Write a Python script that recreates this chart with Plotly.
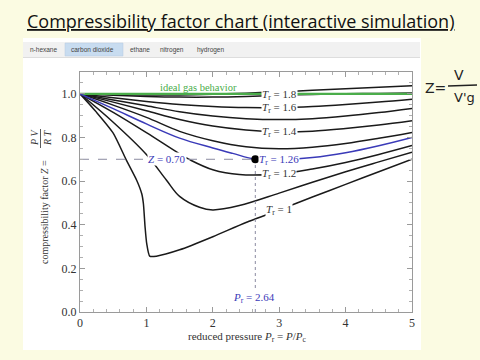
import plotly.graph_objects as go

# ---------------- data ----------------
pr_grid = [0, 0.5, 1.0, 1.5, 2.0, 2.5, 3.0, 3.5, 4.0, 4.5, 5.0]

tr10_pr = [0, 0.25, 0.5, 0.7, 0.855, 0.93, 0.955, 0.98, 1.005, 1.05, 1.15, 1.5, 2.0, 2.5, 3.0, 3.5, 4.0, 4.5, 5.0]
tr10_z = [1.0, 0.915, 0.82, 0.695, 0.603, 0.542, 0.496, 0.39, 0.313, 0.256, 0.256, 0.285, 0.345, 0.41, 0.468, 0.527, 0.585, 0.643, 0.70]

tr11_pr = [0, 0.5, 1.0, 1.3, 1.5, 1.8, 2.0, 2.4, 3.0, 3.5, 4.0, 4.5, 5.0]
tr11_z = [1.0, 0.87, 0.722, 0.605, 0.53, 0.48, 0.468, 0.488, 0.545, 0.595, 0.643, 0.688, 0.732]

tr12_pr = [0, 0.5, 1.0, 1.5, 1.66, 2.0, 2.4, 3.0, 3.5, 4.0, 4.5, 5.0]
tr12_z = [1.0, 0.915, 0.822, 0.725, 0.697, 0.652, 0.63, 0.633, 0.655, 0.685, 0.722, 0.763]

tr126_pr = [0, 0.5, 1.0, 1.5, 2.0, 2.3, 2.64, 3.0, 3.5, 4.0, 4.5, 5.0]
tr126_z = [1.0, 0.932, 0.862, 0.797, 0.752, 0.727, 0.70, 0.698, 0.708, 0.73, 0.762, 0.80]

tr13_z = [1.0, 0.948, 0.892, 0.828, 0.785, 0.757, 0.748, 0.755, 0.772, 0.796, 0.823]
tr14_z = [1.0, 0.962, 0.922, 0.882, 0.852, 0.834, 0.826, 0.829, 0.841, 0.857, 0.877]
tr15_z = [1.0, 0.972, 0.945, 0.918, 0.898, 0.886, 0.882, 0.886, 0.898, 0.914, 0.933]
tr16_z = [1.0, 0.982, 0.965, 0.951, 0.942, 0.937, 0.937, 0.942, 0.951, 0.962, 0.975]
tr18_z = [1.0, 0.993, 0.988, 0.985, 0.985, 0.988, 0.993, 0.997, 1.0, 1.002, 1.004]
tr20_z = [1.0, 0.997, 0.995, 0.995, 0.998, 1.003, 1.009, 1.016, 1.023, 1.03, 1.037]

ideal_pr = [0, 5]
ideal_z = [1.0, 1.0]

point_pr = 2.64
point_z = 0.70

label_pr = 3.0
labels = [
    ("1.8", 0.993), ("1.6", 0.937), ("1.4", 0.826), ("1.2", 0.633), ("1", 0.468),
]
blue_label = ("1.26", 0.698)

x_ticks = [0, 1, 2, 3, 4, 5]
y_ticks = [0.0, 0.2, 0.4, 0.6, 0.8, 1.0]
y_ticklabels = ["0.0", "0.2", "0.4", "0.6", "0.8", "1.0"]

gases = ["n-hexane", "carbon dioxide", "ethane", "nitrogen", "hydrogen"]

# ---------------- figure ----------------
W, H = 480, 360
ML, MR, MT, MB = 80, 68, 72, 48
PW, PH = W - ML - MR, H - MT - MB


def px(x):
    return (x - ML) / PW


def py(y):
    return (H - MB - y) / PH


BLACK = "#1a1a1a"
BLUE = "#3a3ab8"
GREEN = "#4aad4a"
SERIF = "Liberation Serif"
TXT = "#333333"

fig = go.Figure()

black_curves = [
    (tr20_z, pr_grid), (tr18_z, pr_grid), (tr16_z, pr_grid), (tr15_z, pr_grid),
    (tr14_z, pr_grid), (tr13_z, pr_grid), (tr12_z, tr12_pr), (tr11_z, tr11_pr),
]
for zs, prs in black_curves:
    fig.add_trace(go.Scatter(x=prs, y=zs, mode="lines",
                             line=dict(color=BLACK, width=1.5, shape="spline", smoothing=1.0),
                             hoverinfo="skip", showlegend=False))
fig.add_trace(go.Scatter(x=tr10_pr, y=tr10_z, mode="lines",
                         line=dict(color=BLACK, width=1.5, shape="spline", smoothing=0.6),
                         hoverinfo="skip", showlegend=False))
fig.add_trace(go.Scatter(x=ideal_pr, y=ideal_z, mode="lines",
                         line=dict(color=GREEN, width=2.2),
                         hoverinfo="skip", showlegend=False))
fig.add_trace(go.Scatter(x=tr126_pr, y=tr126_z, mode="lines",
                         line=dict(color=BLUE, width=1.5, shape="spline", smoothing=1.0),
                         hoverinfo="skip", showlegend=False))
fig.add_trace(go.Scatter(x=[0, point_pr], y=[point_z, point_z], mode="lines",
                         line=dict(color="#8a8aa0", width=1, dash="dash"),
                         hoverinfo="skip", showlegend=False))
fig.add_trace(go.Scatter(x=[point_pr, point_pr], y=[0, point_z], mode="lines",
                         line=dict(color="#8a8aa0", width=1, dash="dot"),
                         hoverinfo="skip", showlegend=False))
fig.add_trace(go.Scatter(x=[point_pr], y=[point_z], mode="markers",
                         marker=dict(color="black", size=8),
                         hoverinfo="skip", showlegend=False))

ann = []
for t, z in labels:
    ann.append(dict(x=label_pr, y=z, xref="x", yref="y", showarrow=False,
                    text="<i>T</i><sub>r</sub> = " + t, bgcolor="white", borderpad=0,
                    font=dict(family=SERIF, size=11, color=TXT)))
ann.append(dict(x=label_pr, y=blue_label[1], xref="x", yref="y", showarrow=False,
                text="<i>T</i><sub>r</sub> = " + blue_label[0], bgcolor="white", borderpad=0,
                font=dict(family=SERIF, size=11, color=BLUE)))
ann.append(dict(x=1.31, y=point_z, xref="x", yref="y", showarrow=False,
                text="<i>Z</i> = %.2f" % point_z, bgcolor="white", borderpad=0,
                font=dict(family=SERIF, size=11, color=BLUE)))
ann.append(dict(x=point_pr - 0.02, y=0.066, xref="x", yref="y", showarrow=False,
                text="<i>P</i><sub>r</sub> = %.2f" % point_pr, bgcolor="white", borderpad=0,
                font=dict(family=SERIF, size=11, color=BLUE)))
ann.append(dict(x=1.78, y=1.03, xref="x", yref="y", showarrow=False,
                text="ideal gas behavior",
                font=dict(family=SERIF, size=10.5, color=GREEN)))


def pann(x, y, text, size, color=TXT, family=SERIF, angle=0, xa="center", ya="middle"):
    ann.append(dict(x=px(x), y=py(y), xref="paper", yref="paper", showarrow=False,
                    xanchor=xa, yanchor=ya, textangle=angle, text=text,
                    font=dict(family=family, size=size, color=color)))


# axis titles
pann(247, 337, "reduced pressure <i>P</i><sub>r</sub> = <i>P</i>/<i>P</i><sub>c</sub>", 11)
pann(45, 212, "compressibility factor <i>Z</i> =", 10, angle=-90)
pann(34, 138, "<i>P V</i>", 10, angle=-90)
pann(47, 138, "<i>R T</i>", 10, angle=-90)

# title
pann(25, 21, "<u>Compressibility factor chart (interactive simulation)</u>", 18,
     color="#111111", family="Open Sans", xa="left")

# gas buttons
btn_left = [28, 69, 128, 158, 195]
for g, bx in zip(gases, btn_left):
    pann(bx, 49.5, g, 6.5, color="#444444", family="Liberation Sans", xa="left")

# handwritten note
HW = "#222222"
pann(435, 88, "Z=", 14, color=HW, family="DejaVu Sans")
pann(459, 75, "V", 14, color=HW, family="DejaVu Sans")
pann(452, 98, "V'g", 13, color=HW, family="DejaVu Sans", xa="left")

shapes = [
    dict(type="rect", xref="paper", yref="paper", x0=px(23), x1=px(421), y0=py(350), y1=py(38),
         fillcolor="white", line=dict(width=0), layer="below"),
    dict(type="rect", xref="paper", yref="paper", x0=px(23), x1=px(420), y0=py(57), y1=py(42),
         fillcolor="#f1f1f1", line=dict(width=0), layer="below"),
    dict(type="line", xref="paper", yref="paper", x0=px(23), x1=px(420), y0=py(57.5), y1=py(57.5),
         line=dict(color="#dddddd", width=1), layer="below"),
    dict(type="rect", xref="paper", yref="paper", x0=px(65), x1=px(123), y0=py(56), y1=py(43),
         fillcolor="#c8dcf0", line=dict(color="#b4cbe3", width=0.5), layer="below"),
    dict(type="line", xref="paper", yref="paper", x0=px(40.5), x1=px(40.5), y0=py(129), y1=py(148),
         line=dict(color=TXT, width=0.8)),
    dict(type="line", xref="paper", yref="paper", x0=px(448), x1=px(477), y0=py(86), y1=py(85),
         line=dict(color=HW, width=1.5)),
]

axis_common = dict(showline=True, linecolor="#9a9a9a", linewidth=1, mirror="allticks",
                   ticks="inside", ticklen=5, tickcolor="#9a9a9a", showgrid=False, zeroline=False,
                   tickfont=dict(family=SERIF, size=12, color=TXT))

fig.update_layout(
    width=W, height=H,
    margin=dict(l=ML, r=MR, t=MT, b=MB),
    paper_bgcolor="#fbfbe2",
    plot_bgcolor="white",
    showlegend=False,
    annotations=ann,
    shapes=shapes,
    xaxis=dict(range=[0, 5], tickvals=x_ticks, ticktext=[str(v) for v in x_ticks],
               minor=dict(ticks="inside", ticklen=3, dtick=0.2, tickcolor="#b0b0b0"),
               **axis_common),
    yaxis=dict(range=[0, 1.1], tickvals=y_ticks, ticktext=y_ticklabels,
               minor=dict(ticks="inside", ticklen=3, dtick=0.05, tickcolor="#b0b0b0"),
               **axis_common),
)

fig.write_html("out.html", config={"displayModeBar": False},
               post_script="document.body.style.margin='0px';document.body.style.overflow='hidden';")
